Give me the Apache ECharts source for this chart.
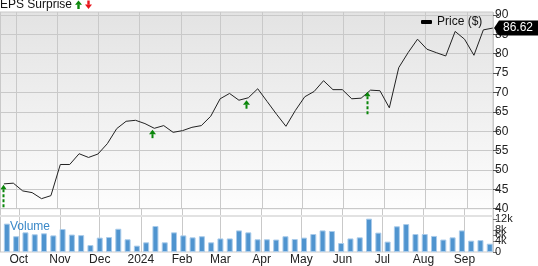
<!DOCTYPE html>
<html>
<head>
<meta charset="utf-8">
<script src="https://cdn.jsdelivr.net/npm/echarts@6/dist/echarts.min.js"></script>
<style>
html,body{margin:0;padding:0;background:#fff;}
#chart{width:538px;height:266px;}
</style>
</head>
<body>
<div id="chart"></div>
<script>
// ---- Data ----
const dates = [
  '2023-09-22','2023-09-29','2023-10-06','2023-10-13','2023-10-20','2023-10-27',
  '2023-11-03','2023-11-10','2023-11-17','2023-11-24','2023-12-01','2023-12-08',
  '2023-12-15','2023-12-22','2023-12-29','2024-01-05','2024-01-12','2024-01-19',
  '2024-01-26','2024-02-02','2024-02-09','2024-02-16','2024-02-23','2024-03-01',
  '2024-03-08','2024-03-15','2024-03-22','2024-03-29','2024-04-05','2024-04-12',
  '2024-04-19','2024-04-26','2024-05-03','2024-05-10','2024-05-17','2024-05-24',
  '2024-05-31','2024-06-07','2024-06-14','2024-06-21','2024-06-28','2024-07-05',
  '2024-07-12','2024-07-19','2024-07-26','2024-08-02','2024-08-09','2024-08-16',
  '2024-08-23','2024-08-30','2024-09-06','2024-09-13','2024-09-20'
];
const prices = [
  46.41, 46.59, 44.59, 44.15, 42.59, 43.37,
  51.41, 51.41, 54.19, 53.23, 54.11, 56.78,
  60.67, 62.56, 62.82, 61.97, 60.75, 61.45,
  59.71, 60.15, 61.00, 61.45, 63.86, 68.37,
  69.75, 68.00, 68.63, 70.96, 67.67, 64.38,
  61.27, 65.34, 68.89, 70.26, 73.04, 70.73,
  70.73, 68.37, 68.53, 70.60, 70.45, 66.04,
  76.41, 80.30, 83.76, 81.16, 80.27, 79.42,
  85.75, 83.75, 79.60, 86.16, 86.62
];
const volumes = [
  10250, 5700, 7100, 6400, 6750, 6000,
  8300, 6300, 6100, 2500, 5200, 5400,
  8400, 4600, 2300, 3500, 9400, 3500,
  7100, 6000, 5300, 5700, 3500, 4900,
  4900, 7800, 7100, 4600, 4600, 4500,
  5700, 4700, 5200, 6500, 7800, 7600,
  3250, 4900, 5300, 12050, 7000, 3750,
  9300, 10100, 6500, 6500, 5800, 4500,
  5300, 7800, 4100, 4300, 3000
];
const epsDates = ['2023-09-21', '2024-01-10', '2024-03-20', '2024-06-18'];
const epsTips  = [46.15, 60.4, 68.0, 70.19];
const epsType  = ['dashed', 'solid', 'solid', 'dashed'];

const monthLabels = ['', 'Feb', 'Mar', 'Apr', 'May', 'Jun', 'Jul', 'Aug', 'Sep', 'Oct', 'Nov', 'Dec'];
const priceTicks = [40, 45, 50, 55, 60, 65, 70, 75, 80, 85, 90];
const volumeTicks = [0, 2000, 4000, 6000, 8000, 10000, 12000];
const volumeTickLabels = ['0', '2k', '4k', '6k', '8k', '10k', '12k'];

// ---- Chart ----
const FONT = '"Liberation Sans", Arial, Helvetica, sans-serif';
const GREEN = '#0a860a';
const RED = '#e8141b';
const GRID_LINE = '#c9c9c9';
const X_MIN = '2023-09-19 02:00';
const X_MAX = '2024-09-20 04:30';

const chart = echarts.init(document.getElementById('chart'), null, {renderer: 'canvas'});

const xAxisCommon = {
  type: 'time',
  min: X_MIN,
  max: X_MAX,
  splitNumber: 12,
  axisLine: {show: false},
  axisTick: {show: false},
  splitLine: {show: true, lineStyle: {color: GRID_LINE, width: 1}}
};

const option = {
  animation: false,
  backgroundColor: '#fff',
  textStyle: {fontFamily: FONT},
  title: [
    {text: 'EPS Surprise', left: 0, top: -1, padding: 0,
     textStyle: {fontSize: 12, fontWeight: 'normal', color: '#111', fontFamily: FONT}},
    {text: 'Volume', left: 10, top: 221, padding: 0,
     textStyle: {fontSize: 12, fontWeight: 'normal', color: '#3a88c8', fontFamily: FONT}}
  ],
  legend: {
    data: ['Price ($)'],
    left: 421, top: 16, padding: 0,
    icon: 'roundRect', itemWidth: 11, itemHeight: 4, itemGap: 5,
    textStyle: {fontSize: 12, color: '#111', fontFamily: FONT}
  },
  graphic: [
    {type: 'polygon', shape: {points: [[78.5, 0.5], [75, 4.8], [82, 4.8]]}, style: {fill: GREEN}},
    {type: 'rect', shape: {x: 77.3, y: 4.5, width: 2.4, height: 4.5}, style: {fill: GREEN}},
    {type: 'rect', shape: {x: 87.3, y: 0.5, width: 2.4, height: 4.2}, style: {fill: RED}},
    {type: 'polygon', shape: {points: [[85, 4.4], [92, 4.4], [88.5, 9]]}, style: {fill: RED}}
  ],
  grid: [
    {left: 0, top: 12, width: 493, height: 196.7, show: true,
     borderColor: GRID_LINE, borderWidth: 1,
     backgroundColor: {type: 'linear', x: 0, y: 0, x2: 0, y2: 1,
       colorStops: [{offset: 0, color: '#e3e3e3'}, {offset: 1, color: '#fdfdfd'}]}},
    {left: 0, top: 208.7, width: 493, height: 43.3, show: true,
     borderColor: GRID_LINE, borderWidth: 1, backgroundColor: '#fff'}
  ],
  xAxis: [
    Object.assign({}, xAxisCommon, {gridIndex: 0, axisLabel: {show: false}}),
    Object.assign({}, xAxisCommon, {gridIndex: 1,
      axisLabel: {show: true, fontSize: 12, color: '#222', margin: 2, fontFamily: FONT,
        hideOverlap: false,
        formatter: function (val) {
          const d = new Date(val);
          return d.getMonth() === 0 ? String(d.getFullYear()) : monthLabels[d.getMonth()];
        }}})
  ],
  yAxis: [
    {type: 'value', gridIndex: 0, position: 'right', min: 40, max: 90.77, interval: 5,
     axisLine: {show: false},
     axisTick: {show: true, length: 6, lineStyle: {color: '#555'}, customValues: priceTicks},
     axisLabel: {show: true, fontSize: 12, color: '#222', margin: 2, fontFamily: FONT,
       customValues: priceTicks, showMaxLabel: true, hideOverlap: false},
     splitLine: {show: true, lineStyle: {color: GRID_LINE, width: 1}}},
    {type: 'value', gridIndex: 1, position: 'right', min: 0, max: 15650, interval: 2000,
     axisLine: {show: false},
     axisTick: {show: true, length: 4, lineStyle: {color: '#777'}, customValues: volumeTicks},
     axisLabel: {show: true, fontSize: 11, color: '#222', margin: 2, fontFamily: FONT,
       customValues: volumeTicks, hideOverlap: false, showMaxLabel: true, showMinLabel: true,
       formatter: function (v) {
         const i = volumeTicks.indexOf(v);
         return i >= 0 ? volumeTickLabels[i] : '';
       }},
     splitLine: {show: false}}
  ],
  series: [
    {
      name: 'Price ($)', type: 'line', xAxisIndex: 0, yAxisIndex: 0,
      data: dates.map((d, i) => [d, prices[i]]),
      symbol: 'none', lineStyle: {color: '#222', width: 1}, itemStyle: {color: '#000'},
      z: 5
    },
    {
      name: 'Volume', type: 'bar', xAxisIndex: 1, yAxisIndex: 1,
      data: dates.map((d, i) => [d, volumes[i]]),
      barWidth: 6,
      itemStyle: {color: '#4f94cf', borderColor: '#a9cbea', borderWidth: 1},
      markLine: {
        silent: true, symbol: 'none', label: {show: false},
        lineStyle: {color: '#e2e2e2', width: 2, type: 'solid'},
        data: [{yAxis: 13000}]
      }
    },
    {
      name: 'EPS', type: 'custom', xAxisIndex: 0, yAxisIndex: 0, clip: false, z: 6,
      data: epsDates.map((d, i) => [d, epsTips[i], epsType[i] === 'dashed' ? 1 : 0]),
      renderItem: function (params, api) {
        const p = api.coord([api.value(0), api.value(1)]);
        const dashed = api.value(2) === 1;
        const x = Math.round(p[0]) + 0.5;
        const y = p[1];
        const headH = 4.5;
        const headW = dashed ? 3 : 3.5;
        const len = dashed ? 23 : 8.5;
        return {
          type: 'group',
          children: [
            {type: 'polygon', shape: {points: [[x, y], [x - headW, y + headH], [x + headW, y + headH]]},
             style: {fill: GREEN}},
            {type: 'line', shape: {x1: x, y1: y + headH, x2: x, y2: y + len},
             style: {stroke: GREEN, lineWidth: 2, lineDash: dashed ? [3, 2] : null}}
          ]
        };
      }
    },
    {
      name: 'LastPrice', type: 'custom', xAxisIndex: 0, yAxisIndex: 0, clip: false, z: 10,
      data: [[dates[dates.length - 1], prices[prices.length - 1]]],
      renderItem: function (params, api) {
        const p = api.coord([api.value(0), api.value(1)]);
        const rx = params.coordSys.x + params.coordSys.width;
        const y = p[1];
        return {
          type: 'group',
          children: [
            {type: 'polygon',
             shape: {points: [[rx + 1, y], [rx + 6, y - 7.5], [rx + 60, y - 7.5], [rx + 60, y + 7.5], [rx + 6, y + 7.5]]},
             style: {fill: '#000'}},
            {type: 'text', x: rx + 10, y: y,
             style: {text: api.value(1).toFixed(2), fill: '#fff', font: '12px ' + FONT,
                     verticalAlign: 'middle', align: 'left'}}
          ]
        };
      }
    }
  ]
};

chart.setOption(option);
</script>
</body>
</html>
